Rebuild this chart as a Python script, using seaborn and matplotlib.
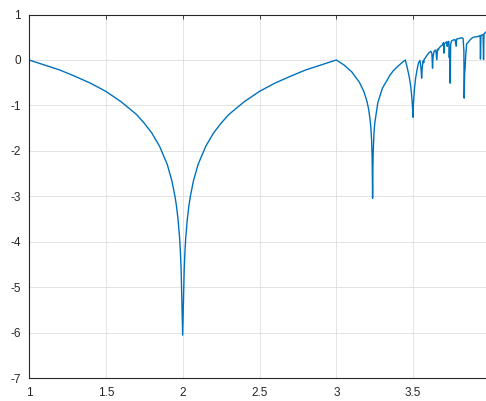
import matplotlib
matplotlib.use("Agg")
import matplotlib.pyplot as plt
import seaborn as sns
import pandas as pd

# values (r on x, exponent on y)
r_smooth = [1.0, 1.1, 1.2, 1.3, 1.4, 1.5, 1.6, 1.7, 1.75, 1.8, 1.85, 1.9, 1.93, 1.95,
            1.96, 1.97, 1.98, 1.985, 1.99, 1.995, 2.0, 2.005, 2.01, 2.015, 2.02, 2.03,
            2.04, 2.05, 2.07, 2.1, 2.15, 2.2, 2.25, 2.3, 2.4, 2.5, 2.6, 2.7, 2.8, 2.9, 3.0]
lam_smooth = [0.0, -0.11, -0.22, -0.36, -0.51, -0.69, -0.92, -1.20, -1.39, -1.61, -1.90,
              -2.30, -2.66, -3.00, -3.22, -3.51, -3.91, -4.20, -4.61, -5.30, -6.05, -5.30,
              -4.61, -4.20, -3.91, -3.51, -3.22, -3.00, -2.66, -2.30, -1.90, -1.61, -1.39,
              -1.20, -0.92, -0.69, -0.51, -0.36, -0.22, -0.11, 0.0]

r_period2 = [3.05, 3.1, 3.15, 3.18, 3.2, 3.21, 3.22, 3.225, 3.23, 3.233, 3.235, 3.236,
             3.238, 3.24, 3.245, 3.25, 3.27, 3.3, 3.35, 3.37, 3.4, 3.43, 3.449]
lam_period2 = [-0.11, -0.26, -0.49, -0.70, -0.92, -1.08, -1.32, -1.50, -1.80, -2.15,
               -2.67, -3.04, -2.37, -2.02, -1.61, -1.39, -0.94, -0.62, -0.33, -0.24,
               -0.14, -0.05, 0.0]

r_chaos = [3.46, 3.475, 3.485, 3.492, 3.496, 3.499, 3.502, 3.508, 3.515, 3.525, 3.535,
           3.544, 3.549, 3.553, 3.555, 3.558, 3.562, 3.565, 3.569, 3.572, 3.578, 3.585,
           3.592, 3.6, 3.608, 3.615, 3.622, 3.626, 3.629, 3.635, 3.643, 3.648, 3.654,
           3.658, 3.664, 3.67, 3.676, 3.682, 3.69, 3.697, 3.701, 3.704, 3.71, 3.717,
           3.722, 3.726, 3.732, 3.735, 3.738, 3.741, 3.744, 3.75, 3.762, 3.772, 3.78,
           3.783, 3.795, 3.806, 3.815, 3.825, 3.83, 3.832, 3.835, 3.838, 3.842, 3.848,
           3.86, 3.87, 3.882, 3.893, 3.905, 3.915, 3.925, 3.932, 3.936, 3.938, 3.941,
           3.948, 3.955, 3.958, 3.961, 3.966, 3.975, 3.985]
lam_chaos = [-0.15, -0.38, -0.60, -0.85, -1.05, -1.26, -0.95, -0.65, -0.42, -0.22, -0.06,
             -0.01, -0.12, -0.28, -0.40, -0.22, -0.08, -0.02, -0.06, 0.02, 0.04, 0.08,
             0.11, 0.15, 0.17, 0.19, 0.14, -0.18, 0.05, 0.18, 0.22, 0.20, 0.0,
             0.24, 0.22, 0.27, 0.29, 0.31, 0.33, 0.38, 0.15, 0.36, 0.38, 0.40,
             0.30, 0.40, 0.41, 0.05, 0.30, -0.51, 0.35, 0.42, 0.44, 0.45, 0.30,
             0.46, 0.47, 0.48, 0.49, 0.47, 0.20, -0.84, -0.30, -0.18, 0.10, 0.35,
             0.40, 0.44, 0.48, 0.50, 0.51, 0.51, 0.52, 0.53, 0.53, 0.02, 0.54,
             0.55, 0.56, 0.01, 0.57, 0.59, 0.62, 0.63]

x_ticks = [1, 1.5, 2, 2.5, 3, 3.5, 4]
x_tick_labels = ["1", "1.5", "2", "2.5", "3", "3.5", "4"]
y_ticks = [1, 0, -1, -2, -3, -4, -5, -6, -7]

df = pd.DataFrame({
    "r": r_smooth + r_period2 + r_chaos,
    "lyap": lam_smooth + lam_period2 + lam_chaos,
})

sns.set_style("white")
plt.rcParams["font.family"] = ["Liberation Sans", "DejaVu Sans"]
plt.rcParams["axes.unicode_minus"] = False

fig = plt.figure(figsize=(4.86, 4.01), dpi=100)
# axes runs slightly past the right edge, as in the cropped reference
ax = fig.add_axes([29 / 486, (401 - 378.3) / 401, 461 / 486, 363.8 / 401])

sns.lineplot(data=df, x="r", y="lyap", ax=ax, color="#0072BD", linewidth=1.0,
             estimator=None, sort=False)

ax.set_xlim(1, 4)
ax.set_ylim(-7, 1)
ax.set_xticks(x_ticks)
ax.set_xticklabels(x_tick_labels)
ax.set_yticks(y_ticks)
ax.set_yticklabels([str(v) for v in y_ticks])
ax.set_xlabel("")
ax.set_ylabel("")

ax.grid(True, color="#dedede", linewidth=0.6)
for side in ["top", "left", "bottom", "right"]:
    ax.spines[side].set_visible(True)
    ax.spines[side].set_color("#262626")
    ax.spines[side].set_linewidth(0.8)
ax.tick_params(direction="in", length=3, width=0.6, colors="#262626",
               labelsize=8.5, top=True, right=True)
ax.tick_params(axis="x", pad=6)
ax.tick_params(axis="y", pad=6)

fig.savefig("out.png", dpi=100)
